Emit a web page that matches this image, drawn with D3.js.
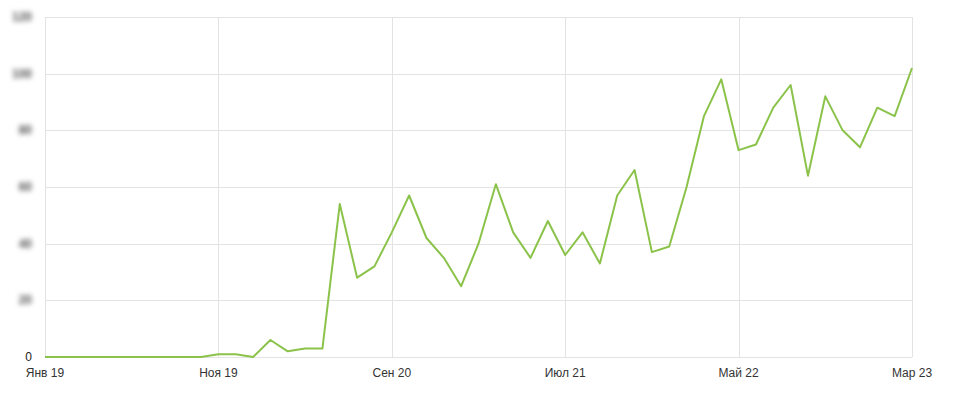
<!DOCTYPE html>
<html lang="ru">
<head>
  <meta charset="utf-8">
  <script src="https://d3js.org/d3.v7.min.js"></script>
  <style>
    body { margin: 0; background: #fff; font-family: 'Liberation Sans', Arial, sans-serif; }
    .grid line { stroke: #e3e3e3; stroke-width: 1; shape-rendering: crispEdges; }
    .tick-y { font-size: 12px; fill: #555; }
    .tick-y.blur { filter: blur(2.4px); fill: #555; font-weight: bold; }
    .tick-x { font-size: 12px; fill: #333; }
    .line { fill: none; stroke: #8bc34a; stroke-width: 2; stroke-linejoin: round; }
  </style>
</head>
<body>
  <svg id="chart" width="957" height="394"></svg>
  <script>
    // months Jan 2019 .. Mar 2023
    const values = [
      0, 0, 0, 0, 0, 0, 0, 0, 0, 0, 1, 1,
      0, 6, 2, 3, 3, 54, 28, 32, 44, 57, 42, 35,
      25, 40, 61, 44, 35, 48, 36, 44, 33, 57, 66, 37,
      39, 60, 85, 98, 73, 75, 88, 96, 64, 92, 80, 74,
      88, 85, 102
    ];
    const yTicks = [0, 20, 40, 60, 80, 100, 120];
    const xTickIdx = [0, 10, 20, 30, 40, 50];
    const xTickLabels = ["Янв 19", "Ноя 19", "Сен 20", "Июл 21", "Май 22", "Мар 23"];

    const margin = {top: 17, right: 45, bottom: 37, left: 45},
          width = 957 - margin.left - margin.right,
          height = 394 - margin.top - margin.bottom;

    const svg = d3.select("#chart")
      .append("g")
      .attr("transform", `translate(${margin.left},${margin.top})`);

    const x = d3.scaleLinear().domain([0, values.length - 1]).range([0, width]);
    const y = d3.scaleLinear().domain([0, 120]).range([height, 0]);

    const grid = svg.append("g").attr("class", "grid");
    grid.selectAll(".h").data(yTicks).enter().append("line")
      .attr("x1", 0).attr("x2", width)
      .attr("y1", d => Math.round(y(d)) + 0.5).attr("y2", d => Math.round(y(d)) + 0.5);
    grid.selectAll(".v").data(xTickIdx).enter().append("line")
      .attr("x1", d => Math.round(x(d)) + 0.5).attr("x2", d => Math.round(x(d)) + 0.5)
      .attr("y1", 0).attr("y2", height);

    // the non-zero y labels are blurred in the source picture
    svg.selectAll(".tick-y").data(yTicks).enter().append("text")
      .attr("class", d => d === 0 ? "tick-y" : "tick-y blur")
      .attr("x", -13)
      .attr("y", d => y(d) + 4)
      .attr("text-anchor", "end")
      .style("fill", d => d === 0 ? "#222" : null)
      .text(d => d);

    svg.selectAll(".tick-x").data(xTickIdx).enter().append("text")
      .attr("class", "tick-x")
      .attr("x", d => x(d))
      .attr("y", height + 20)
      .attr("text-anchor", "middle")
      .text((d, i) => xTickLabels[i]);

    const line = d3.line()
      .x((d, i) => x(i))
      .y(d => y(d));

    svg.append("path")
      .datum(values)
      .attr("class", "line")
      .attr("d", line);
  </script>
</body>
</html>
